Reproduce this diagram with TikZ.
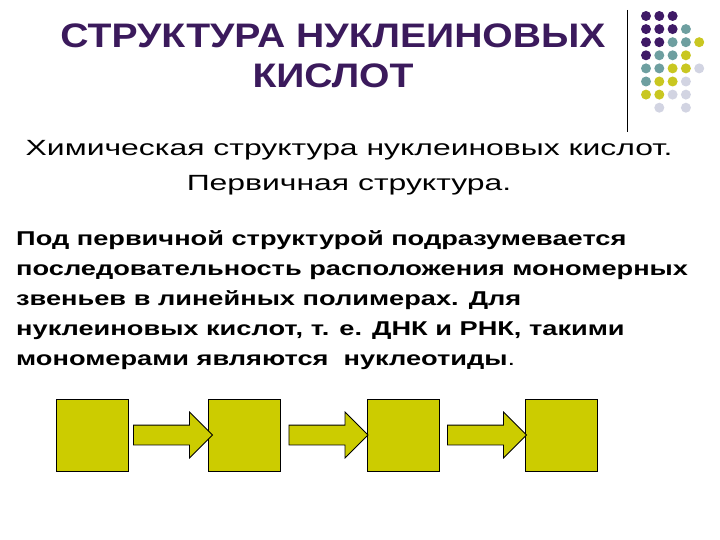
\documentclass[tikz,border=0pt]{standalone}
\usepackage{fontspec}
\setmainfont{Liberation Sans}
\usetikzlibrary{shapes.arrows,calc}
\definecolor{pur}{HTML}{3B1A5C}
\definecolor{dP}{HTML}{3F1A66}
\definecolor{dT}{HTML}{6E9FA0}
\definecolor{dY}{HTML}{C9C721}
\definecolor{dG}{HTML}{D2D4E2}
\definecolor{boxy}{HTML}{CCCC00}
\tikzset{sq/.style={draw=black,fill=boxy,minimum size=72pt,inner sep=0,line width=0.8pt},
 arr/.style={single arrow,draw=black,fill=boxy,minimum height=79pt,minimum width=45pt,inner xsep=0pt,inner ysep=9.5pt,single arrow head extend=13pt,line width=0.8pt,anchor=center},
 dot/.style={circle,inner sep=0,minimum size=10pt}}
\begin{document}
\begin{tikzpicture}[x=1pt,y=-1pt]
\useasboundingbox (0,0) rectangle (720,540);
\node[text=pur,inner sep=0] (t) at (333,60) {\scalebox{1.15}[1]{\fontsize{34}{40}\selectfont\bfseries\begin{tabular}{@{}c@{}}СТРУКТУРА НУКЛЕИНОВЫХ\\КИСЛОТ\end{tabular}}};
\draw[line width=0.8pt] (627,10) coordinate (l1) -- (627,132) coordinate (l2);
\foreach \c/\r/\k in {0/0/dP,1/0/dP,2/0/dP,
 0/1/dP,1/1/dP,2/1/dP,3/1/dT,
 0/2/dP,1/2/dP,2/2/dT,3/2/dT,4/2/dY,
 0/3/dP,1/3/dT,2/3/dT,3/3/dY,
 0/4/dT,1/4/dT,2/4/dY,3/4/dY,4/4/dG,
 0/5/dT,1/5/dY,2/5/dY,3/5/dG,
 0/6/dY,1/6/dY,2/6/dG,3/6/dG,
 1/7/dG,3/7/dG}
 \node[dot,fill=\k] (d\c\r) at (646+13.3*\c,16+13.1*\r) {};
\node[inner sep=0] (s) at (349,166) {\scalebox{1.45}[1]{\fontsize{22}{35}\selectfont\begin{tabular}{@{}c@{}}Химическая структура нуклеиновых кислот.\\Первичная структура.\end{tabular}}};
\node[inner sep=0,anchor=north west] (b) at (16,224) {\scalebox{1.36}[1]{\fontsize{20}{30}\selectfont\bfseries\begin{tabular}{@{}l@{}}Под первичной структурой подразумевается\\последовательность расположения мономерных\\звеньев в линейных полимерах. Для\\нуклеиновых кислот, т. е. ДНК и РНК, такими\\мономерами являются\ \ нуклеотиды\textmd{.}\end{tabular}}};
\node[sq] (q1) at (92,435) {};
\node[sq] (q2) at (244,435) {};
\node[sq] (q3) at (403,435) {};
\node[sq] (q4) at (561,435) {};
\node[arr] (a1) at ($(q1.east)!0.5!(q2.west)$) {};
\node[arr] (a2) at ($(q2.east)!0.5!(q3.west)$) {};
\node[arr] (a3) at ($(q3.east)!0.5!(q4.west)$) {};
\end{tikzpicture}
\end{document}
